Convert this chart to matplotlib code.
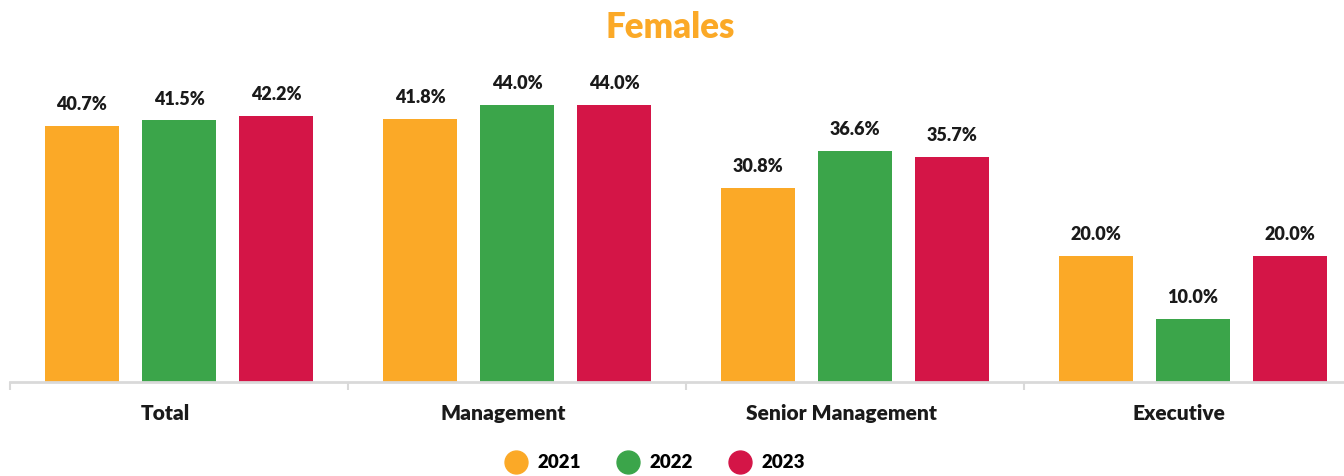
import numpy as np
import matplotlib
matplotlib.use("Agg")
import matplotlib.pyplot as plt
from matplotlib.lines import Line2D

plt.rcParams['font.family'] = ['Lato', 'DejaVu Sans']

# data
categories = ['Total', 'Management', 'Senior Management', 'Executive']
years = ['2021', '2022', '2023']
vals_2021 = [40.7, 41.8, 30.8, 20.0]
vals_2022 = [41.5, 44.0, 36.6, 10.0]
vals_2023 = [42.2, 44.0, 35.7, 20.0]
colors = ['#FBA927', '#3BA54A', '#D41547']

W, H = 1344, 476
fig = plt.figure(figsize=(W / 100, H / 100), dpi=100)
# axes extends a bit past the right edge like in the original
ax = fig.add_axes([10 / W, 94 / H, 1352 / W, 322 / H])

x = np.arange(len(categories)) + 0.5
bw = 0.219
off = 0.287
series = [vals_2021, vals_2022, vals_2023]
for i, (vals, c) in enumerate(zip(series, colors)):
    pos = x + (i - 1) * off
    bars = ax.bar(pos, vals, width=bw, color=c, zorder=2)
    for b, v in zip(bars, vals):
        ax.annotate(f'{v:.1f}%', (b.get_x() + b.get_width() / 2, v),
                    xytext=(0, 11.5), textcoords='offset points',
                    ha='center', va='baseline', fontsize=13,
                    fontweight='heavy', color='#1a1a1a')

ax.set_xlim(0, 4)
ax.set_ylim(0, 51.1)
# labels in the original sit a little left of the group centre (ticks are hidden)
ax.set_xticks(x - 0.041)
ax.set_xticklabels(categories, fontsize=15, fontweight='heavy', color='#1a1a1a')
ax.set_xticks(np.arange(0, 5), minor=True)
ax.tick_params(axis='x', which='major', length=0, pad=16)
ax.tick_params(axis='x', which='minor', length=6, width=1.5, color='#d9d9d9')
ax.set_yticks([])
for s in ['top', 'right', 'left']:
    ax.spines[s].set_visible(False)
ax.spines['bottom'].set_color('#d9d9d9')
ax.spines['bottom'].set_linewidth(2)

fig.text(670 / W, 1 - 27 / H, 'Females', ha='center', va='center',
         fontsize=25, fontweight='heavy', color='#FBA927')

handles = [Line2D([], [], marker='o', linestyle='none', markersize=16.5,
                  markerfacecolor=c, markeredgecolor=c) for c in colors]
fig.legend(handles, years, loc='center', bbox_to_anchor=(655 / W, 1 - 463 / H),
           ncol=3, frameon=False, handlelength=1.1,
           handletextpad=0.6, columnspacing=1.95,
           prop={'weight': 'heavy', 'size': 13.5})

fig.savefig('out.png', dpi=100)
